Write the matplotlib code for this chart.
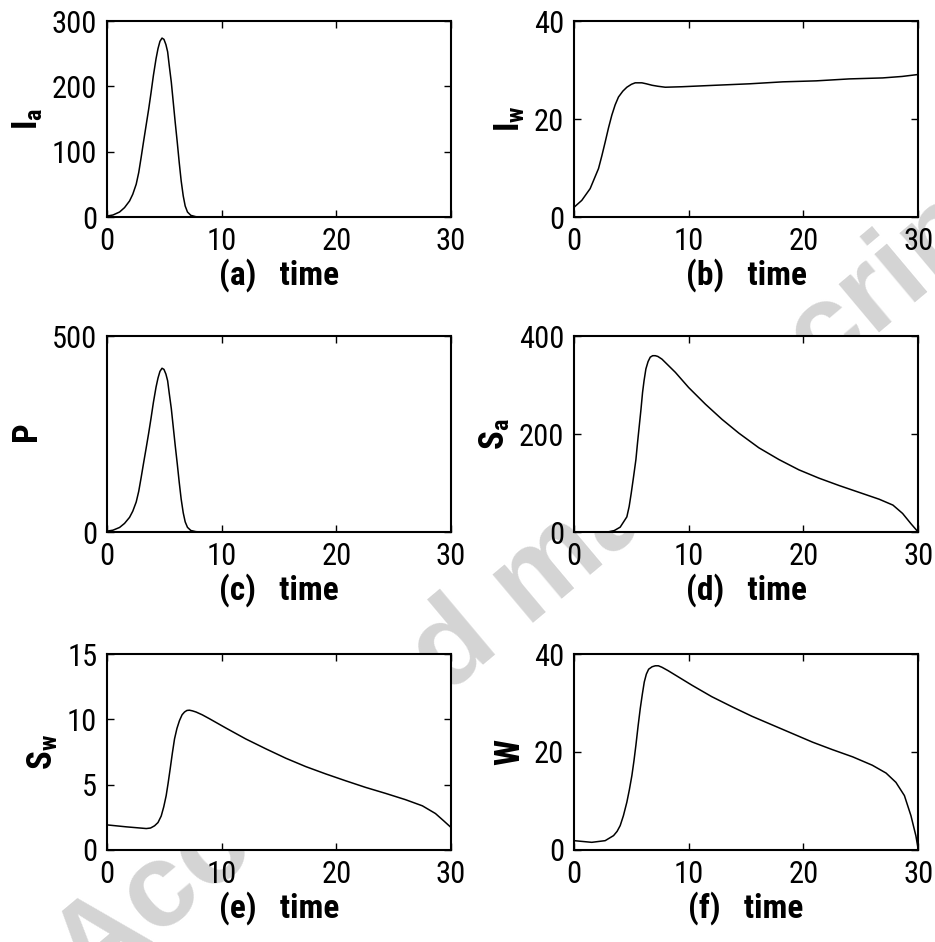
import matplotlib
matplotlib.use('Agg')
import matplotlib.pyplot as plt
from matplotlib import font_manager

# prefer a narrow Helvetica-like face, fall back to Liberation Sans
names = {f.name for f in font_manager.fontManager.ttflist}
FONT, TICK_SIZE = 'Liberation Sans', 20
for cand, size in [('Liberation Sans Narrow', 23), ('Roboto Condensed', 22),
                   ('Open Sans Condensed', 22)]:
    if cand in names:
        FONT, TICK_SIZE = cand, size
        break
plt.rcParams['font.family'] = [FONT, 'DejaVu Sans']
plt.rcParams['mathtext.fontset'] = 'custom'
plt.rcParams['mathtext.rm'] = FONT
plt.rcParams['mathtext.bf'] = FONT + ':bold'

# (a) I_a
t_ia = [0, 0.52, 1.10, 1.53, 1.97, 2.25, 2.55, 2.77, 2.98, 3.18, 3.41, 3.64, 3.84,
        4.05, 4.28, 4.45, 4.62, 4.80, 4.97, 5.14, 5.29, 5.43, 5.61, 5.78, 5.95,
        6.13, 6.30, 6.47, 6.65, 6.82, 7.02, 7.31, 7.75, 8.3, 10, 20, 30]
ia = [1.5, 3.1, 7.7, 14.4, 24.6, 34.9, 50.3, 68.2, 91.3, 114.3, 140, 165.6, 190,
      216.9, 242.5, 257.9, 269, 274, 272, 264, 253, 232, 206.5, 175.8, 145,
      114.3, 83.5, 55.4, 32.3, 16.9, 7.7, 2.6, 0.5, 0, 0, 0, 0]

# (b) I_w
t_iw = [0, 0.67, 1.4, 2.13, 2.42, 2.71, 3.0, 3.29, 3.58, 3.87, 4.25, 4.6, 5.0,
        5.33, 5.91, 6.3, 6.8, 7.3, 7.95, 9.4, 12.3, 15.3, 18.2, 21.1, 24.0,
        26.9, 28.6, 30]
iw = [2.0, 3.4, 5.8, 9.9, 12.5, 15.3, 18.2, 20.8, 22.9, 24.5, 25.7, 26.5, 27.1,
      27.4, 27.4, 27.2, 26.9, 26.7, 26.5, 26.6, 26.9, 27.2, 27.6, 27.8, 28.2,
      28.4, 28.7, 29.1]

# (c) P
t_p = [0, 0.52, 1.10, 1.53, 1.97, 2.25, 2.55, 2.77, 2.98, 3.18, 3.41, 3.64, 3.84,
       4.05, 4.28, 4.45, 4.62, 4.80, 4.97, 5.14, 5.29, 5.43, 5.61, 5.78, 5.95,
       6.13, 6.30, 6.47, 6.65, 6.82, 7.02, 7.31, 7.75, 8.3, 10, 20, 30]
p = [2.3, 4.7, 11.7, 22, 37.5, 53.2, 76.7, 104, 139, 174, 213, 253, 290,
     331, 370, 393, 410, 418, 415, 403, 386, 354, 315, 268, 221,
     174, 127, 84, 49, 26, 12, 4, 1, 0, 0, 0, 0]

# (d) S_a
t_sa = [0, 3.0, 3.5, 4.02, 4.6, 4.8, 4.98, 5.18, 5.39, 5.53, 5.68, 5.83, 5.97,
        6.1, 6.26, 6.45, 6.64, 6.85, 7.08, 7.3, 7.66, 8.83, 9.99, 11.45, 12.9,
        14.36, 16.11, 17.86, 19.6, 21.35, 23.1, 24.85, 26.6, 27.8, 28.64, 29.37, 30]
sa = [0, 0.5, 3, 10, 31, 52, 79, 112, 148, 182, 216, 250, 285,
      309, 333, 348, 357, 360, 360, 358.5, 353, 326, 295, 261, 230,
      202, 172, 148, 127, 110, 95, 81, 67, 55, 38, 17, 0]

# (e) S_w
t_sw = [0, 1.69, 3.43, 3.8, 4.15, 4.45, 4.73, 4.95, 5.16, 5.33, 5.51, 5.7, 5.89,
        6.1, 6.32, 6.55, 6.76, 6.97, 7.19, 7.45, 7.77, 8.3, 8.93, 10.38, 12.1,
        13.86, 15.6, 17.34, 19.08, 20.8, 22.55, 24.3, 26.03, 27.5, 28.64, 29.36, 30]
sw = [1.92, 1.77, 1.64, 1.68, 1.85, 2.1, 2.6, 3.3, 4.15, 5.1, 6.2, 7.4, 8.5,
      9.3, 9.9, 10.35, 10.56, 10.68, 10.7, 10.65, 10.56, 10.35, 10.05, 9.33, 8.5,
      7.74, 7.02, 6.38, 5.82, 5.3, 4.79, 4.33, 3.85, 3.38, 2.79, 2.23, 1.72]

# (f) W
t_w = [0, 1.54, 2.71, 3.44, 3.75, 4.02, 4.3, 4.6, 4.82, 5.04, 5.22, 5.39, 5.58,
       5.77, 5.95, 6.12, 6.3, 6.5, 6.8, 7.08, 7.35, 7.66, 8.2, 8.83, 10.3, 12.0,
       13.8, 15.5, 17.3, 19.0, 20.8, 22.5, 24.3, 26.0, 27.2, 28.06, 28.8, 29.37,
       29.6, 29.8, 30]
w = [1.9, 1.56, 1.9, 2.93, 3.8, 4.98, 7.0, 9.75, 12.3, 15.2, 18.2, 21.4, 25.3,
     28.9, 31.8, 34.3, 35.9, 36.9, 37.4, 37.6, 37.6, 37.3, 36.6, 35.7, 33.6, 31.3,
     29.2, 27.3, 25.5, 23.8, 22.0, 20.5, 19.0, 17.3, 15.7, 13.8, 11.1, 7.0,
     4.8, 2.9, 0.2]

panels = [
    (t_ia, ia, [0, 100, 200, 300], r'$\mathbf{I_a}$', '(a)'),
    (t_iw, iw, [0, 20, 40], r'$\mathbf{I_w}$', '(b)'),
    (t_p, p, [0, 500], r'$\mathbf{P}$', '(c)'),
    (t_sa, sa, [0, 200, 400], r'$\mathbf{S_a}$', '(d)'),
    (t_sw, sw, [0, 5, 10, 15], r'$\mathbf{S_w}$', '(e)'),
    (t_w, w, [0, 20, 40], r'$\mathbf{W}$', '(f)'),
]

fig = plt.figure(figsize=(9.35, 9.42), dpi=100)

# faint watermark, hidden behind the white axes
fig.text(0.573, 0.383, 'Accepted manuscript', rotation=40, fontsize=86,
         fontweight='bold', color='#d4d4d4', ha='center', va='center',
         family='Liberation Sans', zorder=-1)

lefts = [0.1144, 0.614]
bottoms = [0.7696, 0.4352, 0.0977]
for i, (tt, yy, yt, ylab, tag) in enumerate(panels):
    ax = fig.add_axes([lefts[i % 2], bottoms[i // 2], 0.368, 0.208])
    ax.plot(tt, yy, color='black', linewidth=1.1)
    ax.set_xlim(0, 30)
    ax.set_ylim(yt[0], yt[-1])
    ax.set_xticks([0, 10, 20, 30])
    ax.set_yticks(yt)
    ax.tick_params(direction='in', top=True, right=True, length=5, width=1,
                   labelsize=TICK_SIZE, pad=7)
    for s in ax.spines.values():
        s.set_linewidth(1.5)
    ax.set_xlabel(tag + '   time', fontsize=24, fontweight='bold', labelpad=2)
    ax.set_ylabel(ylab, fontsize=25, labelpad=5)

plt.savefig('out.png', dpi=100)
